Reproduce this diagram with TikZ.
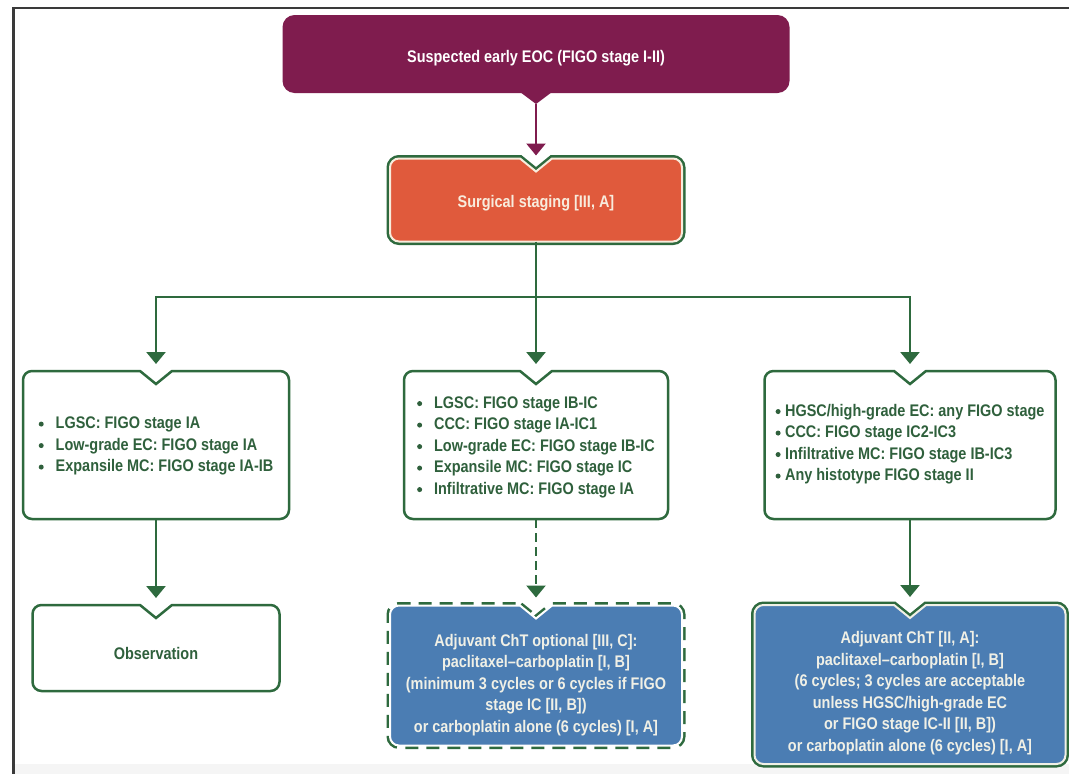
\documentclass[tikz,border=0pt]{standalone}
\usepackage{fontspec}
\setmainfont{Liberation Sans}[FakeStretch=0.86]
\usetikzlibrary{positioning,calc,arrows.meta,backgrounds}
\definecolor{eocpurple}{HTML}{7F1C4E}
\definecolor{eocorange}{HTML}{E05A3C}
\definecolor{eocgreen}{HTML}{2E6A3E}
\definecolor{eoctext}{HTML}{2F603C}
\definecolor{eocblue}{HTML}{4B7DB3}
\definecolor{eoccream}{HTML}{F8ECDD}
\definecolor{eocpale}{HTML}{F0F0E6}
\definecolor{eocframe}{HTML}{3A3A3A}

\newcommand{\bigdot}{\raisebox{2pt}{\tikz\fill[eoctext] (0pt,0pt) circle (2.5pt);}}
\newcommand{\bul}{\bigdot\hspace{12pt}}
\newcommand{\bult}{\bigdot\hspace{4.5pt}}
% box outline with the V cut at the top
\newcommand{\notchframe}[2]{%
  \path[#1] ($(#2.north)+(-16pt,0pt)$) -- ($(#2.north)+(0pt,-13pt)$) -- ($(#2.north)+(16pt,0pt)$)
    [rounded corners=9pt] -- (#2.north east) -- (#2.south east) -- (#2.south west) -- (#2.north west) [sharp corners] -- cycle;}

\begin{document}
\begin{tikzpicture}[x=1pt, y=-1pt]
\tikzstyle{shell}=[shape = rectangle, inner sep = 0pt, outer sep = 0pt, draw=none]
\tikzstyle{txt}=[inner sep = 0pt, font=\bfseries\fontsize{16.8}{21.5}\selectfont]
\tikzstyle{whitebox}=[draw=eocgreen, line width=2.5pt, fill=white, line join=miter]
\tikzstyle{orangebox}=[preaction={draw=eocgreen, line width=7pt}, fill=eocorange, draw=eoccream, line width=2pt]
\tikzstyle{bluebox}=[preaction={draw=eocgreen, line width=7pt}, fill=eocblue, draw=eocpale, line width=2pt]
\tikzstyle{dashbox}=[preaction={draw=eocgreen, line width=7pt, dash pattern=on 13pt off 8pt}, fill=eocblue, draw=white, line width=2pt]
\tikzstyle{garrow}=[draw=eocgreen, line width=2.5pt, -{Triangle[width=19pt, length=12pt]}, shorten >=7pt]

\useasboundingbox (0,0) rectangle (1069,774);
\fill[white] (0,0) rectangle (1069,774);
\fill[black!4] (15,764) rectangle (1069,774);
\draw[eocframe, line width=2.5pt] (13.5,774) -- (13.5,8) -- (1069,8);

% boxes
\node[shell, minimum width=507pt, minimum height=78pt] (eoc) at (536,54) {};
\node[shell, minimum width=292pt, minimum height=83pt] (surg) at (536,200) {};
\node[shell, minimum width=266pt, minimum height=148pt] (lbox) at (156,445) {};
\node[shell, minimum width=264pt, minimum height=148pt] (mbox) at (536,445) {};
\node[shell, minimum width=291pt, minimum height=148pt] (rbox) at (910,445) {};
\node[shell, minimum width=247pt, minimum height=86pt] (obs) at (156,648) {};
\node[shell, minimum width=292pt, minimum height=140pt] (mblue) at (536,675.5) {};
\node[shell, minimum width=311pt, minimum height=159pt] (rblue) at (910,684.5) {};

\fill[eocpurple, rounded corners=12pt] (eoc.north west) rectangle (eoc.south east);
\fill[eocpurple] ($(eoc.south)+(-16pt,1pt)$) -- ($(eoc.south)+(0pt,-11pt)$) -- ($(eoc.south)+(16pt,1pt)$) -- cycle;
\notchframe{orangebox}{surg}
\foreach \b in {lbox,mbox,rbox,obs}
{
	\notchframe{whitebox}{\b}
}
\notchframe{dashbox}{mblue}
\notchframe{bluebox}{rblue}

% texts
\node[txt, text=white] (eoctxt) at ([yshift=-4pt]eoc.center) {Suspected early EOC (FIGO stage I-II)};
\node[txt, text=eoccream] (surgtxt) at ([yshift=-3pt]surg.center) {Surgical staging [III, A]};
\node[txt, text=eoctext, align=left] (ltxt) at ([yshift=-1pt]lbox.center)
	{\bul LGSC: FIGO stage IA\\ \bul Low-grade EC: FIGO stage IA\\ \bul Expansile MC: FIGO stage IA-IB};
\node[txt, text=eoctext, align=left] (mtxt) at ([yshift=-2pt]mbox.center)
	{\bul LGSC: FIGO stage IB-IC\\ \bul CCC: FIGO stage IA-IC1\\ \bul Low-grade EC: FIGO stage IB-IC\\
	 \bul Expansile MC: FIGO stage IC\\ \bul Infiltrative MC: FIGO stage IA};
\node[txt, text=eoctext, align=left] (rtxt) at ([yshift=1pt]rbox.center)
	{\bult HGSC/high-grade EC: any FIGO stage\\ \bult CCC: FIGO stage IC2-IC3\\
	 \bult Infiltrative MC: FIGO stage IB-IC3\\ \bult Any histotype FIGO stage II};
\node[txt, text=eoctext] (obstxt) at ([yshift=-5pt]obs.center) {Observation};
\node[txt, text=eocpale, align=center] (mbluetxt) at ([yshift=-9.5pt]mblue.center)
	{Adjuvant ChT optional [III, C]:\\ paclitaxel--carboplatin [I, B]\\ (minimum 3 cycles or 6 cycles if FIGO\\
	 stage IC [II, B])\\ or carboplatin alone (6 cycles) [I, A]};
\node[txt, text=eocpale, align=center] (rbluetxt) at ([yshift=-8.5pt]rblue.center)
	{Adjuvant ChT [II, A]:\\ paclitaxel--carboplatin [I, B]\\ (6 cycles; 3 cycles are acceptable\\
	 unless HGSC/high-grade EC\\ or FIGO stage IC-II [II, B])\\ or carboplatin alone (6 cycles) [I, A]};

% connectors
\coordinate (split) at (536,297);
\draw[eocpurple, line width=2.5pt, -{Triangle[width=19pt, length=12pt]}, shorten >=3pt] ([yshift=-11pt]eoc.south) -- (surg.north);
\draw[garrow] (surg.south) -- (split) -| (lbox.north);
\draw[garrow] (split) -| (rbox.north);
\draw[garrow] (split) -- (mbox.north);
\draw[garrow] (lbox.south) -- (obs.north);
\draw[garrow, shorten >=8pt, dash pattern=on 9pt off 5pt] (mbox.south) -- (mblue.north);
\draw[garrow, shorten >=8pt] (rbox.south) -- (rblue.north);
\end{tikzpicture}
\end{document}
